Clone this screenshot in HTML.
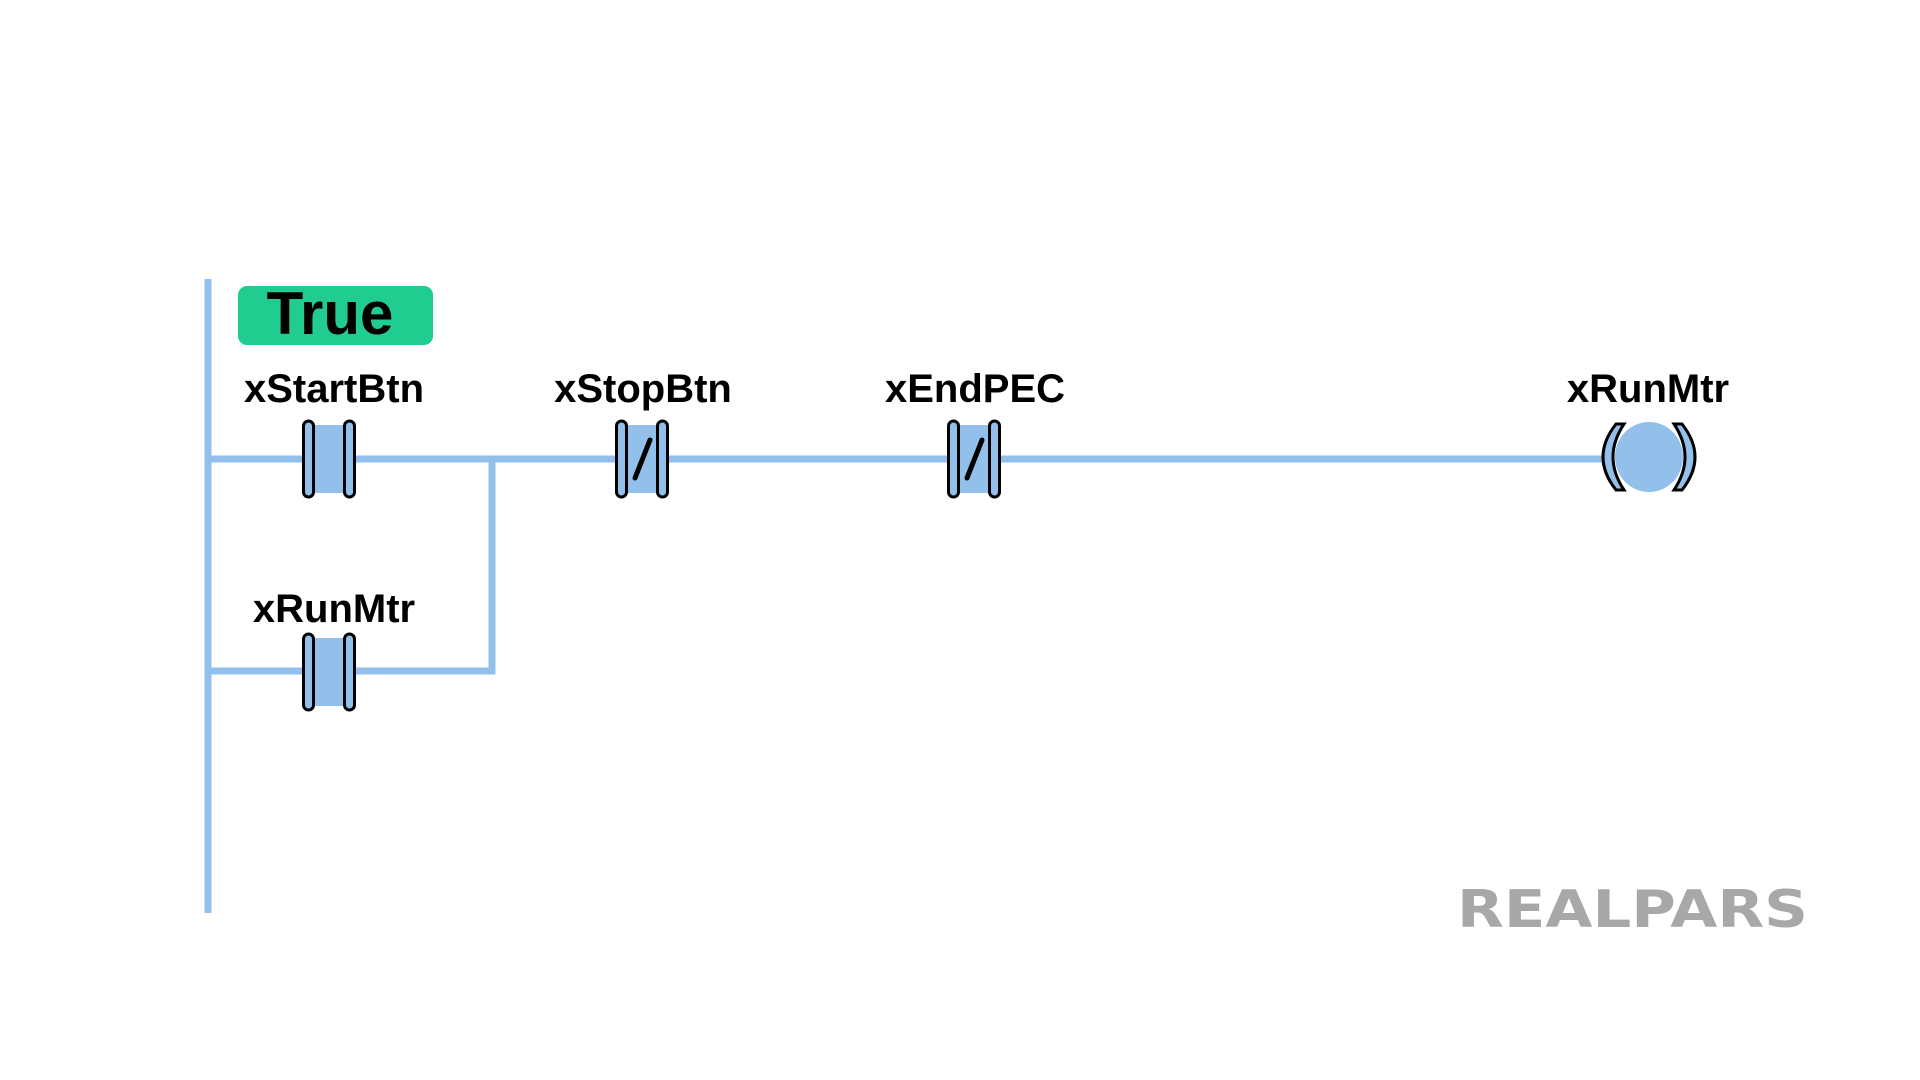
<!DOCTYPE html>
<html><head><meta charset="utf-8"><style>
html,body{margin:0;padding:0;background:#fff;width:1920px;height:1080px;overflow:hidden}
svg{display:block}
text{font-family:"Liberation Sans",sans-serif;font-weight:bold;fill:#000}
</style></head><body>
<svg width="1920" height="1080" viewBox="0 0 1920 1080">
<g stroke="#93c0ea" stroke-width="7" fill="none">
<line x1="208" y1="279" x2="208" y2="913"/>
<line x1="208" y1="459" x2="1610" y2="459"/>
<polyline points="208,671 492,671 492,459"/>
</g>
<rect x="238" y="286" width="195" height="59" rx="9" fill="#21cc90"/>
<text x="330" y="334" font-size="60" text-anchor="middle">True</text>
<g font-size="40" text-anchor="middle">
<text x="334" y="402">xStartBtn</text>
<text x="643" y="402">xStopBtn</text>
<text x="975" y="402">xEndPEC</text>
<text x="1648" y="402">xRunMtr</text>
<text x="334" y="622">xRunMtr</text>
</g>
<defs>
<g id="c">
<rect x="8" y="4" width="36" height="68" fill="#93c0ea"/>
<rect x="1.5" y="0" width="10" height="76" rx="5" fill="#93c0ea" stroke="#000" stroke-width="3"/>
<rect x="42.5" y="0" width="10" height="76" rx="5" fill="#93c0ea" stroke="#000" stroke-width="3"/>
</g>
</defs>
<use href="#c" x="302" y="421"/>
<use href="#c" x="302" y="634"/>
<use href="#c" x="615" y="421"/>
<line x1="635" y1="478" x2="650" y2="440" stroke="#000" stroke-width="5" stroke-linecap="round"/>
<use href="#c" x="947" y="421"/>
<line x1="967" y1="478" x2="982" y2="440" stroke="#000" stroke-width="5" stroke-linecap="round"/>
<g>
<path d="M1624,424 L1616,424 Q1590,457 1616,490 L1624,490 Q1602,457 1624,424 Z" fill="#93c0ea" stroke="#000" stroke-width="3"/>
<path d="M1674,424 L1682,424 Q1708,457 1682,490 L1674,490 Q1696,457 1674,424 Z" fill="#93c0ea" stroke="#000" stroke-width="3"/>
<ellipse cx="1649" cy="457" rx="34" ry="35" fill="#93c0ea"/>
</g>
<text x="1457" y="927" font-size="52" style="fill:#a8a8a8;font-family:'DejaVu Sans',sans-serif;font-weight:bold" textLength="351" lengthAdjust="spacingAndGlyphs">REALPARS</text>
</svg>
</body></html>
